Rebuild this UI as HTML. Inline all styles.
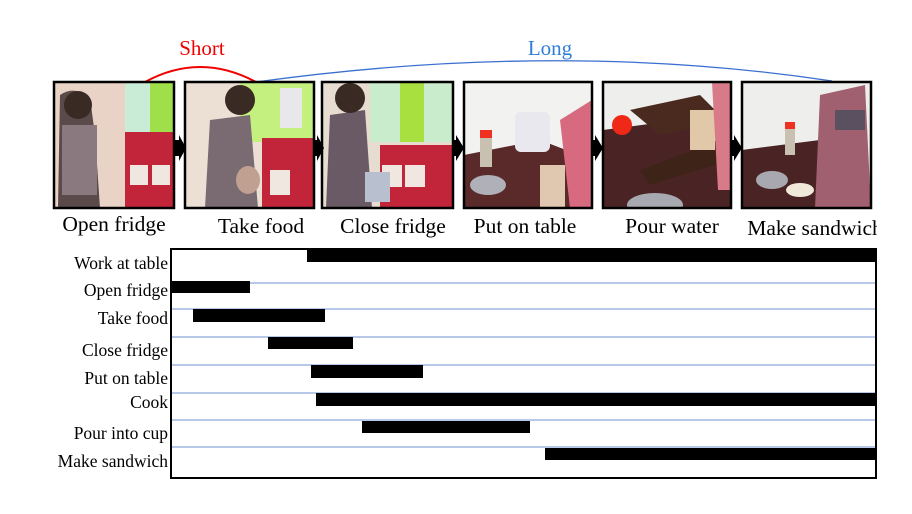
<!DOCTYPE html>
<html><head><meta charset="utf-8"><style>
html,body{margin:0;padding:0;background:#fff;}
svg{display:block;}
text{font-family:"Liberation Serif",serif;}
</style></head><body>
<svg width="912" height="514" viewBox="0 0 912 514" xmlns="http://www.w3.org/2000/svg">
<defs>
<clipPath id="c1"><rect x="54" y="82" width="120" height="126"/></clipPath>
<clipPath id="c2"><rect x="185" y="82" width="129" height="126"/></clipPath>
<clipPath id="c3"><rect x="322" y="82" width="131" height="126"/></clipPath>
<clipPath id="c4"><rect x="464" y="82" width="128" height="126"/></clipPath>
<clipPath id="c5"><rect x="603" y="82" width="128" height="126"/></clipPath>
<clipPath id="c6"><rect x="742" y="82" width="129" height="126"/></clipPath>
</defs>
<path d="M145,82 Q200,52 256,82" fill="none" stroke="#f00000" stroke-width="2"/>
<path d="M256,82 Q560,40 832,81" fill="none" stroke="#3a6fd0" stroke-width="1.3"/>
<text x="202" y="55" font-size="21" fill="#f00000" text-anchor="middle">Short</text>
<text x="550" y="55" font-size="21" fill="#2f7ed8" text-anchor="middle">Long</text>

<g clip-path="url(#c1)">
<rect x="54" y="82" width="120" height="126" fill="#e8d3c6"/>
<rect x="125" y="82" width="49" height="60" fill="#c9ecd6"/>
<rect x="150" y="82" width="24" height="60" fill="#9fe04a"/>
<rect x="125" y="132" width="49" height="76" fill="#c2243a"/>
<rect x="130" y="165" width="18" height="20" fill="#f0e8e0"/>
<rect x="152" y="165" width="18" height="20" fill="#f0e8e0"/>
<path d="M60,95 Q75,85 90,98 L95,135 L100,208 L58,208 Z" fill="#5a4a4a"/>
<rect x="62" y="125" width="35" height="70" fill="#8a7a80"/>
<circle cx="78" cy="105" r="14" fill="#3a2a24"/>
</g>
<g clip-path="url(#c2)">
<rect x="185" y="82" width="129" height="126" fill="#ece0d4"/>
<rect x="240" y="82" width="74" height="60" fill="#c4f080"/>
<rect x="280" y="88" width="22" height="40" fill="#e8e8ea"/>
<rect x="262" y="138" width="52" height="70" fill="#c2243a"/>
<rect x="270" y="170" width="20" height="25" fill="#f0e8e0"/>
<path d="M210,120 L250,115 L258,208 L205,208 Z" fill="#7a6a72"/>
<circle cx="240" cy="100" r="15" fill="#3a2a24"/>
<ellipse cx="248" cy="180" rx="12" ry="14" fill="#c0a090"/>
</g>
<g clip-path="url(#c3)">
<rect x="322" y="82" width="131" height="126" fill="#e6ddd0"/>
<rect x="370" y="82" width="83" height="60" fill="#c8eccc"/>
<rect x="400" y="82" width="24" height="60" fill="#a8e040"/>
<rect x="380" y="145" width="73" height="63" fill="#c2243a"/>
<rect x="382" y="165" width="20" height="22" fill="#f0e8e0"/>
<rect x="405" y="165" width="20" height="22" fill="#f0e8e0"/>
<path d="M330,115 L365,110 L372,208 L326,208 Z" fill="#6a5a66"/>
<circle cx="350" cy="98" r="15" fill="#3a2a24"/>
<rect x="365" y="172" width="25" height="30" fill="#b8c0d0"/>
</g>
<g clip-path="url(#c4)">
<rect x="464" y="82" width="128" height="126" fill="#f2f2f0"/>
<path d="M464,155 L540,140 L592,160 L592,208 L464,208 Z" fill="#5a2a2a"/>
<rect x="515" y="112" width="35" height="40" fill="#e8e8ee" rx="6"/>
<rect x="480" y="132" width="12" height="35" fill="#c8c0b0"/>
<rect x="480" y="130" width="12" height="8" fill="#f03020"/>
<rect x="540" y="165" width="25" height="43" fill="#e0c8b0"/>
<path d="M560,120 L592,100 L592,208 L570,208 Z" fill="#d86a80"/>
<ellipse cx="488" cy="185" rx="18" ry="10" fill="#b0b0b8"/>
</g>
<g clip-path="url(#c5)">
<rect x="603" y="82" width="128" height="126" fill="#eeeeec"/>
<path d="M603,130 L680,120 L731,150 L731,208 L603,208 Z" fill="#4a2424"/>
<path d="M630,110 L700,95 L725,120 L660,135 Z" fill="#4a2a1e"/>
<path d="M640,170 L720,140 L731,160 L650,185 Z" fill="#3e2418"/>
<circle cx="622" cy="125" r="10" fill="#f02818"/>
<rect x="690" y="110" width="25" height="40" fill="#e0c8a8"/>
<ellipse cx="655" cy="205" rx="28" ry="12" fill="#a8a8b0"/>
<path d="M712,82 L731,82 L731,190 L718,190 Z" fill="#d87a88"/>
</g>
<g clip-path="url(#c6)">
<rect x="742" y="82" width="129" height="126" fill="#eeeeec"/>
<path d="M742,150 L820,140 L820,208 L742,208 Z" fill="#4a2424"/>
<rect x="785" y="125" width="10" height="30" fill="#c8c0b0"/>
<rect x="785" y="122" width="10" height="7" fill="#f03020"/>
<ellipse cx="772" cy="180" rx="16" ry="9" fill="#a8a8b0"/>
<path d="M820,95 L865,85 L871,208 L815,208 Z" fill="#a06070"/>
<rect x="835" y="110" width="30" height="20" fill="#5a5060"/>
<ellipse cx="800" cy="190" rx="14" ry="7" fill="#f0e8d8"/>
</g>
<g fill="none" stroke="#000" stroke-width="2.5">
<rect x="54" y="82" width="120" height="126"/>
<rect x="185" y="82" width="129" height="126"/>
<rect x="322" y="82" width="131" height="126"/>
<rect x="464" y="82" width="128" height="126"/>
<rect x="603" y="82" width="128" height="126"/>
<rect x="742" y="82" width="129" height="126"/>
</g>
<g fill="#000">
<path d="M174,140 L179,140 L179,135 L186,148 L179,161 L179,156 L174,156 Z"/>
<path d="M314,140 L317,140 L317,135 L324,148 L317,161 L317,156 L314,156 Z"/>
<path d="M453,140 L456,140 L456,135 L464,148 L456,161 L456,156 L453,156 Z"/>
<path d="M592,140 L595,140 L595,135 L603,148 L595,161 L595,156 L592,156 Z"/>
<path d="M731,140 L734,140 L734,135 L742,148 L734,161 L734,156 L731,156 Z"/>
</g>
<g font-size="21.5" fill="#000" text-anchor="middle">
<text x="114" y="231">Open fridge</text>
<text x="261" y="233">Take food</text>
<text x="393" y="233">Close fridge</text>
<text x="525" y="233">Put on table</text>
<text x="672" y="233">Pour water</text>
<text x="815" y="235">Make sandwich</text>
</g>
<rect x="877" y="210" width="35" height="40" fill="#fff"/>

<g stroke="#8ea6dc" stroke-width="1.3">
<line x1="171" y1="283" x2="876" y2="283"/>
<line x1="171" y1="309" x2="876" y2="309"/>
<line x1="171" y1="337" x2="876" y2="337"/>
<line x1="171" y1="365" x2="876" y2="365"/>
<line x1="171" y1="393" x2="876" y2="393"/>
<line x1="171" y1="420" x2="876" y2="420"/>
<line x1="171" y1="447" x2="876" y2="447"/>
</g>
<g fill="#000">
<rect x="307" y="249" width="570" height="13"/>
<rect x="171" y="281" width="79" height="12"/>
<rect x="193" y="309" width="132" height="13"/>
<rect x="268" y="337" width="85" height="12"/>
<rect x="311" y="365" width="112" height="13"/>
<rect x="316" y="393" width="561" height="13"/>
<rect x="362" y="421" width="168" height="12"/>
<rect x="545" y="448" width="332" height="12"/>
</g>
<rect x="171" y="249" width="705" height="229" fill="none" stroke="#000" stroke-width="2"/>
<g font-size="17.5" fill="#000" text-anchor="end">
<text x="168" y="269">Work at table</text>
<text x="168" y="296">Open fridge</text>
<text x="168" y="324">Take food</text>
<text x="168" y="356">Close fridge</text>
<text x="168" y="384">Put on table</text>
<text x="168" y="408">Cook</text>
<text x="168" y="439">Pour into cup</text>
<text x="168" y="467">Make sandwich</text>
</g>
</svg>
</body></html>
